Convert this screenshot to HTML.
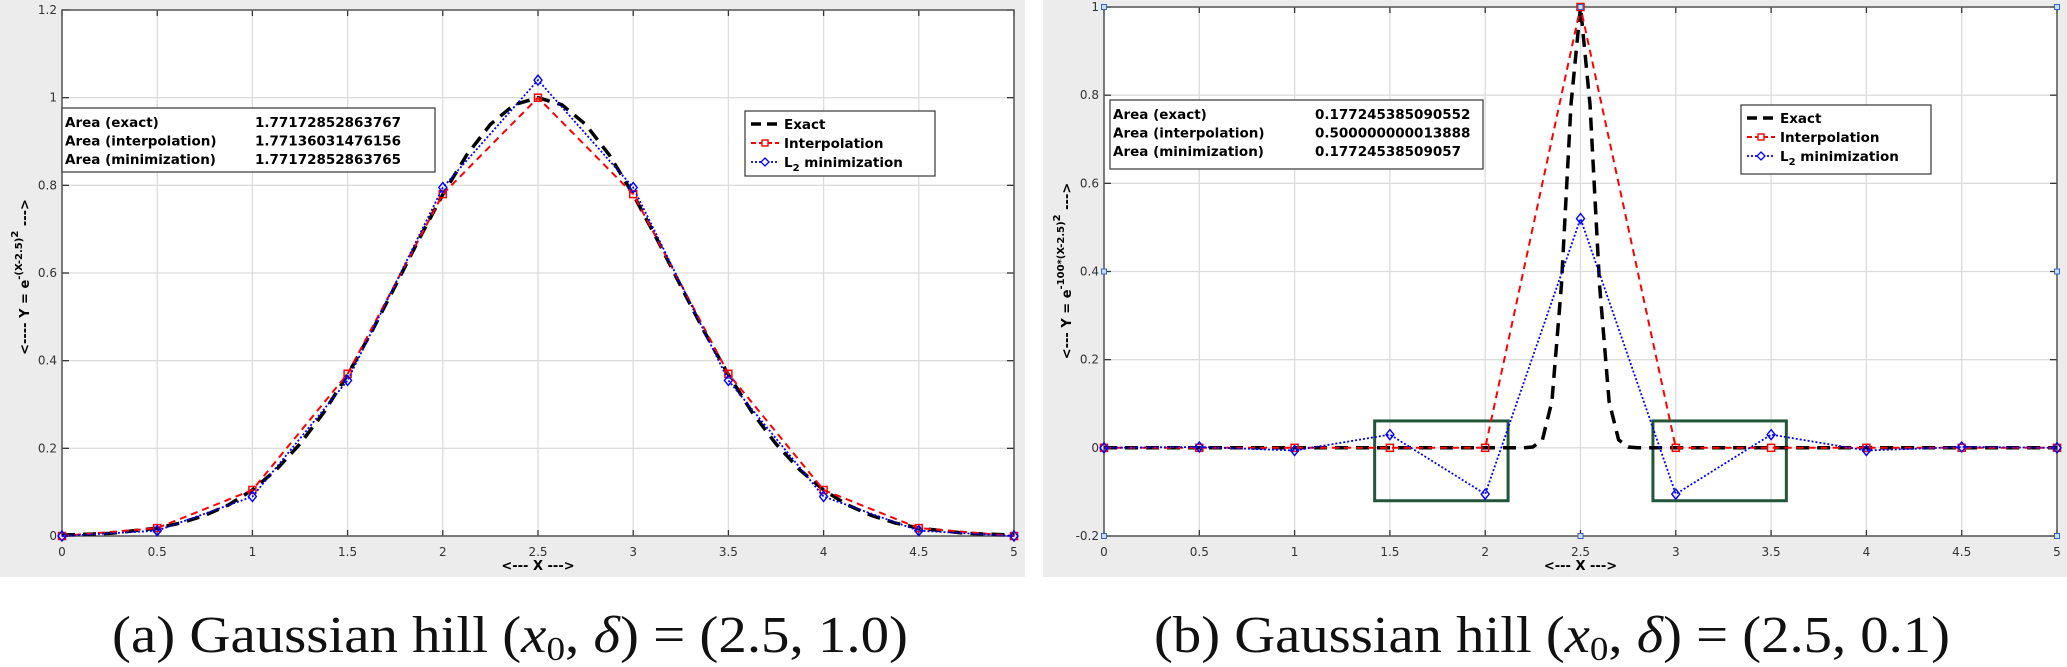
<!DOCTYPE html>
<html><head><meta charset="utf-8"><style>
html,body{margin:0;padding:0;background:#fff;}
svg{display:block;}
text{font-family:"DejaVu Sans","Liberation Sans",sans-serif;}
</style></head><body>
<svg id="svg" width="2067" height="667" xmlns="http://www.w3.org/2000/svg">
<rect x="0" y="0" width="1025" height="577" fill="#ececec"/>
<rect x="1043" y="0" width="1024" height="577" fill="#ececec"/>
<text x="510" y="652" text-anchor="middle" style="font-family:'Liberation Serif',serif" font-size="52" fill="#111" textLength="796" lengthAdjust="spacingAndGlyphs">(a) Gaussian hill (<tspan font-style="italic">x</tspan><tspan font-size="34" dy="8">0</tspan><tspan dy="-8">, </tspan><tspan font-style="italic">δ</tspan>) = (2.5, 1.0)</text>
<text x="1552" y="652" text-anchor="middle" style="font-family:'Liberation Serif',serif" font-size="52" fill="#111" textLength="796" lengthAdjust="spacingAndGlyphs">(b) Gaussian hill (<tspan font-style="italic">x</tspan><tspan font-size="34" dy="8">0</tspan><tspan dy="-8">, </tspan><tspan font-style="italic">δ</tspan>) = (2.5, 0.1)</text>
</svg>
<script>
// ---- data panel (a)
const xPts = [0,0.5,1,1.5,2,2.5,3,3.5,4,4.5,5];
const aInterp = [0,0.018,0.105,0.37,0.78,1.0,0.78,0.37,0.105,0.018,0];
const aMin = [0,0.012,0.09,0.355,0.795,1.04,0.795,0.355,0.09,0.012,0];
const aExactX = [0,0.25,0.5,0.625,0.75,0.875,1,1.125,1.25,1.375,1.5,1.625,1.75,1.875,2,2.125,2.25,2.375,2.5,2.625,2.75,2.875,3,3.125,3.25,3.375,3.5,3.625,3.75,3.875,4,4.125,4.25,4.375,4.5,4.75,5];
const aExactY = [0.002,0.006,0.018,0.030,0.047,0.071,0.105,0.151,0.21,0.282,0.368,0.465,0.57,0.677,0.779,0.869,0.939,0.984,1,0.984,0.939,0.869,0.779,0.677,0.57,0.465,0.368,0.282,0.21,0.151,0.105,0.071,0.047,0.030,0.018,0.006,0.002];
const aYTicks = [0,0.2,0.4,0.6,0.8,1,1.2];
const aYTickLabels = ["0","0.2","0.4","0.6","0.8","1","1.2"];
// ---- data panel (b)
const bInterp = [0,0,0,0,0,1,0,0,0,0,0];
const bMin = [0,0.002,-0.006,0.03,-0.105,0.52,-0.105,0.03,-0.006,0.002,0];
const bExactX = [0,0.5,1,1.5,2,2.15,2.2,2.25,2.3,2.35,2.4,2.45,2.5,2.55,2.6,2.65,2.7,2.75,2.8,2.85,3,3.5,4,4.5,5];
const bExactY = [0,0,0,0,0,0,0.0001,0.0019,0.018,0.105,0.368,0.779,1,0.779,0.368,0.105,0.018,0.0019,0.0001,0,0,0,0,0,0];
const bYTicks = [-0.2,0,0.2,0.4,0.6,0.8,1];
const bYTickLabels = ["-0.2","0","0.2","0.4","0.6","0.8","1"];
const xTicks = [0,0.5,1,1.5,2,2.5,3,3.5,4,4.5,5];
const xTickLabels = ["0","0.5","1","1.5","2","2.5","3","3.5","4","4.5","5"];
const aAreaLabels = ["Area (exact)","Area (interpolation)","Area (minimization)"];
const aAreaValues = ["1.77172852863767","1.77136031476156","1.77172852863765"];
const bAreaValues = ["0.177245385090552","0.500000000013888","0.17724538509057"];
const bBoxes = [[1.42,2.12,0.061,-0.12],[2.88,3.58,0.061,-0.12]];

const svg = document.getElementById('svg');
const NS = 'http://www.w3.org/2000/svg';
function mk(tag, attrs, parent){const e=document.createElementNS(NS,tag);for(const k in attrs)e.setAttribute(k,attrs[k]);(parent||svg).appendChild(e);return e;}

function panel(o){
  const sx = v => o.L + (v - 0) / 5 * (o.R - o.L);
  const sy = v => o.B - (v - o.ymin) / (o.ymax - o.ymin) * (o.B - o.T);
  const g = mk('g',{});
  
  
  const bg = mk('rect',{x:o.L,y:o.T,width:o.R-o.L,height:o.B-o.T,fill:'#fff'},g);
  
  
  xTicks.forEach((t,i)=>{
    const l = mk('line',{x1:sx(t),x2:sx(t),y1:o.T,y2:o.B,stroke:'#dcdcdc','stroke-width':1.3},g);
    
    
    mk('line',{x1:sx(t),x2:sx(t),y1:o.B,y2:o.B-6,stroke:'#333','stroke-width':1.3},g);
    mk('line',{x1:sx(t),x2:sx(t),y1:o.T,y2:o.T+6,stroke:'#333','stroke-width':1.3},g);
    const tx = mk('text',{x:sx(t),y:o.B+20,'text-anchor':'middle','font-size':12,fill:'#333'},g);
    tx.textContent = xTickLabels[i];
    
    
  });
  o.yt.forEach((t,i)=>{
    const l = mk('line',{x1:o.L,x2:o.R,y1:sy(t),y2:sy(t),stroke:'#dcdcdc','stroke-width':1.3},g);
    
    
    mk('line',{x1:o.L,x2:o.L+7,y1:sy(t),y2:sy(t),stroke:'#333','stroke-width':1.3},g);
    mk('line',{x1:o.R,x2:o.R-7,y1:sy(t),y2:sy(t),stroke:'#333','stroke-width':1.3},g);
    const tx = mk('text',{x:o.L-5,y:sy(t)+4,'text-anchor':'end','font-size':12,fill:'#333'},g);
    tx.textContent = o.ytl[i];
    
    
  });
  mk('rect',{x:o.L,y:o.T,width:o.R-o.L,height:o.B-o.T,fill:'none',stroke:'#555','stroke-width':1.5},g);
  (o.boxes||[]).forEach(b=>{
    const r = mk('rect',{x:sx(b[0]),y:sy(b[2]),width:sx(b[1])-sx(b[0]),height:sy(b[3])-sy(b[2]),fill:'none',stroke:'#22553a','stroke-width':3},g);
    
    
  });
  const pts = (xs,ys)=>xs.map((x,i)=>sx(x).toFixed(1)+','+sy(ys[i]).toFixed(1)).join(' ');
  const ex = mk('polyline',{points:pts(o.ex,o.ey),fill:'none',stroke:'#000','stroke-width':3.5,'stroke-dasharray':'13,8'},g);
  
  
  const ip = mk('polyline',{points:pts(xPts,o.ip),fill:'none',stroke:'#f00','stroke-width':2,'stroke-dasharray':'7,5'},g);
  
  
  xPts.forEach((x,i)=>{
    const m = mk('rect',{x:sx(x)-3.5,y:sy(o.ip[i])-3.5,width:7,height:7,fill:'none',stroke:'#f00','stroke-width':1.5},g);
    
    
  });
  const mn = mk('polyline',{points:pts(xPts,o.mn),fill:'none',stroke:'#00f','stroke-width':1.8,'stroke-dasharray':'2,2'},g);
  
  
  xPts.forEach((x,i)=>{
    const cx=sx(x), cy=sy(o.mn[i]);
    const m = mk('polygon',{points:`${cx},${cy-5} ${cx+4},${cy} ${cx},${cy+5} ${cx-4},${cy}`,fill:'none',stroke:'#00f','stroke-width':1.4},g);
    
    
  });
  const ab = mk('rect',{x:o.ab[0],y:o.ab[1],width:o.ab[2],height:o.ab[3],fill:'#fff',stroke:'#444','stroke-width':1.3},g);
  
  
  aAreaLabels.forEach((s,i)=>{
    const y = o.ab[1]+19+i*18.5;
    const t1 = mk('text',{x:o.ab[0]+3,y:y,'font-size':13.5,'font-weight':'bold',fill:'#000'},g);
    t1.textContent = s;
    
    
    const t2 = mk('text',{x:o.ab[0]+o.vx,y:y,'font-size':13.5,'font-weight':'bold',fill:'#000'},g);
    t2.textContent = o.av[i];
    
    
  });
  const lg = mk('g',{},g);
  
  
  mk('rect',{x:o.lg[0],y:o.lg[1],width:190,height:o.lg[2],fill:'#fff',stroke:'#444','stroke-width':1.3},lg);
  const lx=o.lg[0], ly=o.lg[1];
  const rows=[ly+13,ly+32,ly+51];
  mk('line',{x1:lx+6,x2:lx+34,y1:rows[0],y2:rows[0],stroke:'#000','stroke-width':3.5,'stroke-dasharray':'10,6'},lg);
  mk('line',{x1:lx+6,x2:lx+34,y1:rows[1],y2:rows[1],stroke:'#f00','stroke-width':2,'stroke-dasharray':'5,3'},lg);
  mk('rect',{x:lx+17,y:rows[1]-3,width:6,height:6,fill:'#fff',stroke:'#f00','stroke-width':1.4},lg);
  mk('line',{x1:lx+6,x2:lx+34,y1:rows[2],y2:rows[2],stroke:'#00f','stroke-width':1.8,'stroke-dasharray':'2,2'},lg);
  mk('polygon',{points:`${lx+20},${rows[2]-4} ${lx+24},${rows[2]} ${lx+20},${rows[2]+4} ${lx+16},${rows[2]}`,fill:'#fff',stroke:'#00f','stroke-width':1.3},lg);
  const e1 = mk('text',{x:lx+39,y:rows[0]+5,'font-size':13.5,'font-weight':'bold'},lg); e1.textContent='Exact';
  
  
  const e2 = mk('text',{x:lx+39,y:rows[1]+5,'font-size':13.5,'font-weight':'bold'},lg); e2.textContent='Interpolation';
  
  
  const e3 = mk('text',{x:lx+39,y:rows[2]+5,'font-size':13.5,'font-weight':'bold'},lg);
  e3.innerHTML='L<tspan font-size="10" dy="4">2</tspan><tspan dy="-4"> minimization</tspan>';
  
  
  const xl = mk('text',{x:(o.L+o.R)/2,y:o.B+34,'text-anchor':'middle','font-size':13,'font-weight':'bold'},g);
  xl.textContent='<--- X --->';
  
  
  const yl = mk('text',{x:0,y:0,'text-anchor':'middle','font-size':13,'font-weight':'bold',transform:`translate(${o.ylx},${o.yly}) rotate(-90)`},g);
  yl.innerHTML = o.ylab;
  
  
  (o.sq||[]).forEach(p=>{
    const s = mk('rect',{x:sx(p[0])-2.5,y:sy(p[1])-2.5,width:5,height:5,fill:'#cde',stroke:'#36c','stroke-width':1},g);
    
    
  });
}
panel({id:'gaussian-a',L:62,R:1014,T:10,B:536,ymin:0,ymax:1.2,yt:aYTicks,ytl:aYTickLabels,
  ex:aExactX,ey:aExactY,ip:aInterp,mn:aMin,ab:[62,108,373,64],vx:193,av:aAreaValues,lg:[745,111,65],
  ylx:29,yly:277,ylab:'&lt;---- Y = e<tspan font-size="10" dy="-7">-(X-2.5)</tspan><tspan font-size="10" dy="-4">2</tspan><tspan dy="11">  ---&gt;</tspan>'});
panel({id:'gaussian-b',L:1104,R:2057,T:7,B:536,ymin:-0.2,ymax:1,yt:bYTicks,ytl:bYTickLabels,
  ex:bExactX,ey:bExactY,ip:bInterp,mn:bMin,ab:[1110,100,373,69],vx:205,av:bAreaValues,lg:[1741,105,69],
  ylx:1071,yly:271,boxes:bBoxes,sq:[[0,1],[0,-0.2],[2.5,-0.2],[5,-0.2],[5,1],[2.5,1],[0,0.4],[5,0.4]],
  ylab:'&lt;--- Y = e<tspan font-size="10" dy="-7">-100*(X-2.5)</tspan><tspan font-size="10" dy="-4">2</tspan><tspan dy="11">  ---&gt;</tspan>'});
</script>
</body></html>
